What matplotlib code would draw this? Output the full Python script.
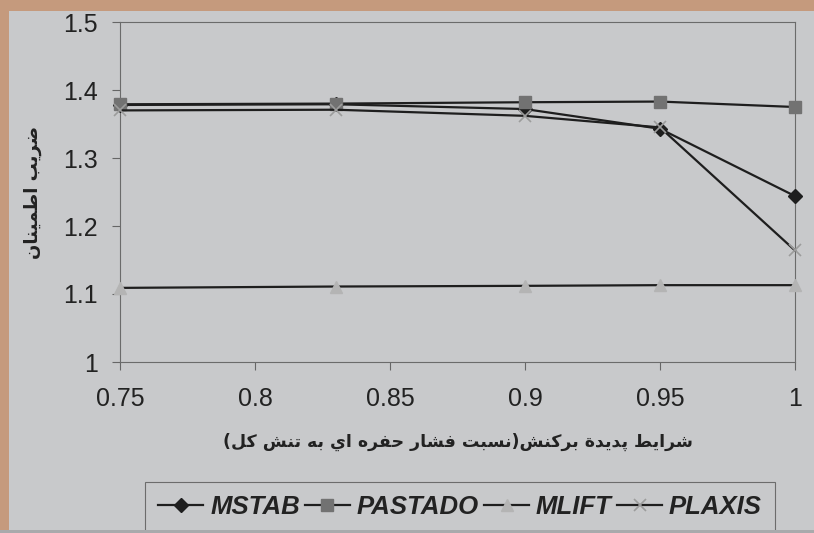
import matplotlib
matplotlib.use('Agg')
import matplotlib.pyplot as plt
from matplotlib.patches import Rectangle
from matplotlib.ticker import FormatStrFormatter

# data
ratio = [0.75, 0.83, 0.9, 0.95, 1.0]
mstab = [1.378, 1.379, 1.372, 1.343, 1.244]
pastado = [1.379, 1.380, 1.382, 1.383, 1.375]
mlift = [1.109, 1.111, 1.112, 1.113, 1.113]
plaxis = [1.370, 1.371, 1.362, 1.345, 1.164]

x_ticks = [0.75, 0.8, 0.85, 0.9, 0.95, 1.0]
y_ticks = [1.0, 1.1, 1.2, 1.3, 1.4, 1.5]

y_title = 'ضريب اطمينان'
x_title_main = 'شرايط پديدة بركنش'
x_title_par = 'نسبت فشار حفره اي به تنش كل'

BG = '#c8c9cb'
TAN = '#c59a7d'
INK = '#1e1e1e'

# isolated, final, initial, medial presentation forms
FORMS = {
	'ا': ('\uFE8D', '\uFE8E', None, None),
	'ب': ('\uFE8F', '\uFE90', '\uFE91', '\uFE92'),
	'ة': ('\uFE93', '\uFE94', None, None),
	'ت': ('\uFE95', '\uFE96', '\uFE97', '\uFE98'),
	'ح': ('\uFEA1', '\uFEA2', '\uFEA3', '\uFEA4'),
	'د': ('\uFEA9', '\uFEAA', None, None),
	'ر': ('\uFEAD', '\uFEAE', None, None),
	'س': ('\uFEB1', '\uFEB2', '\uFEB3', '\uFEB4'),
	'ش': ('\uFEB5', '\uFEB6', '\uFEB7', '\uFEB8'),
	'ض': ('\uFEBD', '\uFEBE', '\uFEBF', '\uFEC0'),
	'ط': ('\uFEC1', '\uFEC2', '\uFEC3', '\uFEC4'),
	'ف': ('\uFED1', '\uFED2', '\uFED3', '\uFED4'),
	'ك': ('\uFED9', '\uFEDA', '\uFEDB', '\uFEDC'),
	'ل': ('\uFEDD', '\uFEDE', '\uFEDF', '\uFEE0'),
	'م': ('\uFEE1', '\uFEE2', '\uFEE3', '\uFEE4'),
	'ن': ('\uFEE5', '\uFEE6', '\uFEE7', '\uFEE8'),
	'ه': ('\uFEE9', '\uFEEA', '\uFEEB', '\uFEEC'),
	'ي': ('\uFEF1', '\uFEF2', '\uFEF3', '\uFEF4'),
	'پ': ('\uFB56', '\uFB57', '\uFB58', '\uFB59'),
}


def shape(text):
	# join letters and put them in visual (left to right) order
	out = []
	for i, c in enumerate(text):
		if c not in FORMS:
			out.append(c)
			continue
		iso, fin, ini, med = FORMS[c]
		prev = text[i - 1] if i > 0 else None
		nxt = text[i + 1] if i < len(text) - 1 else None
		join_prev = prev in FORMS and FORMS[prev][2] is not None
		join_next = ini is not None and nxt in FORMS
		if join_prev and join_next:
			out.append(med)
		elif join_prev:
			out.append(fin)
		elif join_next:
			out.append(ini)
		else:
			out.append(iso)
	return ''.join(reversed(out))


def main():
	plt.rcParams['font.family'] = ['Liberation Sans', 'DejaVu Sans']
	fig = plt.figure(figsize=(8.14, 5.33), dpi=100, facecolor=BG)
	fig.patches.append(Rectangle((0, 1 - 11 / 533.0), 1, 11 / 533.0, transform=fig.transFigure,
		facecolor=TAN, edgecolor='none', zorder=0))
	fig.patches.append(Rectangle((0, 0), 9 / 814.0, 1, transform=fig.transFigure,
		facecolor=TAN, edgecolor='none', zorder=0))
	fig.patches.append(Rectangle((0, 0), 1, 3 / 533.0, transform=fig.transFigure,
		facecolor='#a9aaac', edgecolor='none', zorder=0))

	ax = fig.add_axes([120 / 814.0, 1 - 362 / 533.0, 675 / 814.0, 340 / 533.0])
	ax.set_facecolor(BG)

	ax.plot(ratio, mstab, color=INK, lw=1.6, marker='D', ms=7, mfc=INK, mec=INK,
		label='MSTAB', clip_on=False, zorder=3)
	ax.plot(ratio, pastado, color=INK, lw=1.6, marker='s', ms=9, mfc='#727272', mec='#727272',
		label='PASTADO', clip_on=False, zorder=3)
	ax.plot(ratio, mlift, color=INK, lw=1.6, marker='^', ms=9, mfc='#b4b4b4', mec='#b4b4b4',
		label='MLIFT', clip_on=False, zorder=3)
	ax.plot(ratio, plaxis, color=INK, lw=1.6, marker='x', ms=9, mew=1.2, mec='#9c9c9c',
		label='PLAXIS', clip_on=False, zorder=4)

	ax.set_xlim(0.75, 1.0)
	ax.set_ylim(1.0, 1.5)
	ax.set_xticks(x_ticks)
	ax.set_yticks(y_ticks)
	ax.xaxis.set_major_formatter(FormatStrFormatter('%g'))
	ax.yaxis.set_major_formatter(FormatStrFormatter('%g'))
	ax.tick_params(axis='both', direction='out', length=6, width=0.8, color='#666666',
		labelsize=18, labelcolor='#222222')
	ax.tick_params(axis='x', pad=12)
	ax.tick_params(axis='y', pad=10)
	for sp in ax.spines.values():
		sp.set_color('#6b6b6b')
		sp.set_linewidth(0.8)

	ax.set_ylabel(shape(y_title), family='DejaVu Sans', fontsize=13, fontweight='bold', color='#222222')
	ax.yaxis.set_label_coords(-0.129, 0.5)
	ax.yaxis.label.set_va('center')

	x_title = '(' + shape(x_title_par) + ')' + shape(x_title_main)
	ax.set_xlabel(x_title, family='DejaVu Sans', fontsize=12.5, fontweight='bold', color='#222222')
	ax.xaxis.set_label_coords(0.5, -0.235)
	ax.xaxis.label.set_va('center')

	leg = ax.legend(loc='center', bbox_to_anchor=(460 / 814.0, 1 - 507 / 533.0),
		bbox_transform=fig.transFigure, ncol=4, frameon=True, fancybox=False,
		handlelength=1.75, handletextpad=0.27, columnspacing=0.2, borderpad=0.5,
		borderaxespad=0, prop={'family': 'Liberation Sans', 'weight': 'bold',
		'style': 'italic', 'size': 18.5})
	leg.get_frame().set_facecolor(BG)
	leg.get_frame().set_edgecolor('#555555')
	leg.get_frame().set_linewidth(0.8)
	for t in leg.get_texts():
		t.set_color('#222222')

	fig.savefig('out.png', dpi=100, facecolor=BG)


if __name__ == '__main__':
	main()
